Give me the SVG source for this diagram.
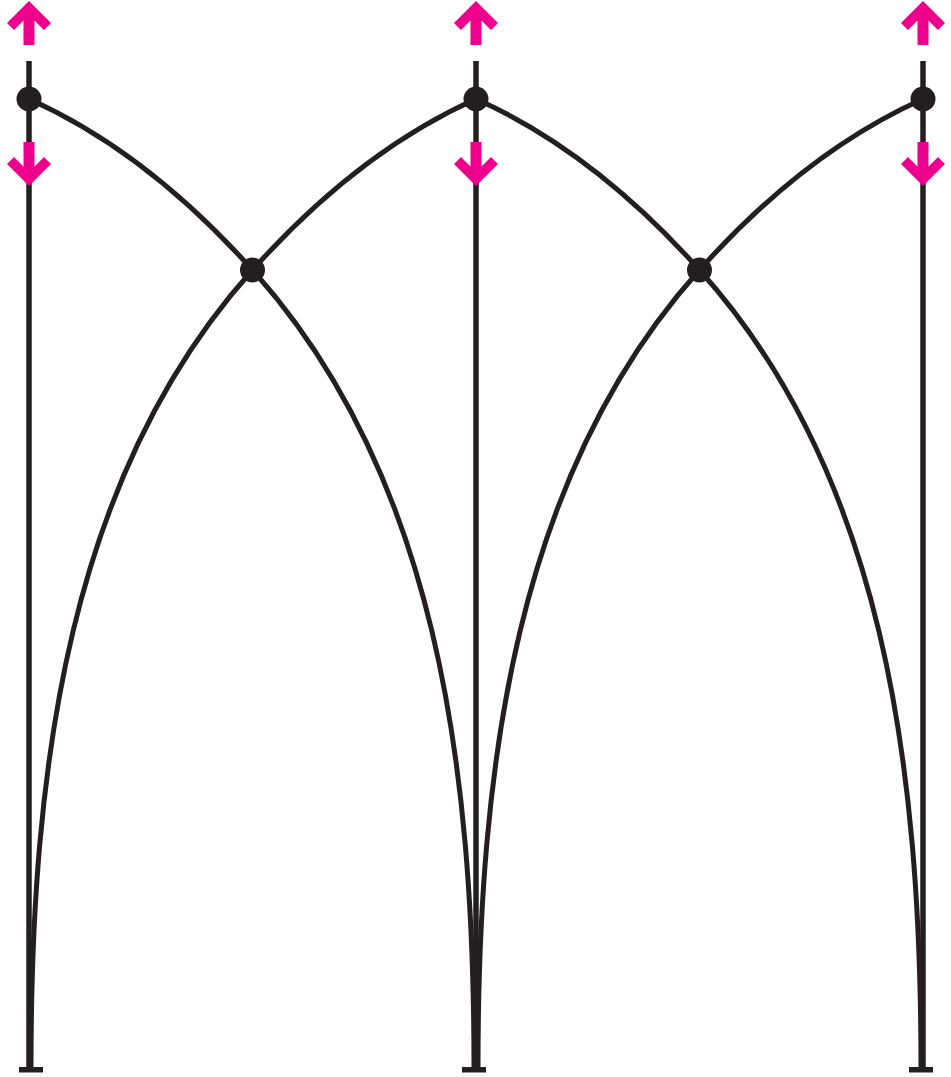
<svg xmlns="http://www.w3.org/2000/svg" xmlns:xlink="http://www.w3.org/1999/xlink" width="951" height="1077" viewBox="0 0 951 1077">
<defs>
<style>
.ln{fill:none;stroke:#231f20;stroke-width:5}
.vt{fill:none;stroke:#231f20;stroke-width:5.5}
.nd{fill:#231f20}
.ar{fill:#ec008c}
.cap{fill:#231f20}
</style>
<path id="arc" d="M29,99 C114,137 189,199 252.5,270 C436,474 474,765 474,1067"/>
<polygon id="arrow" points="0,1 22,23 15,30 5.5,20.5 5.5,45 -5.5,45 -5.5,20.5 -15,30 -22,23"/>
</defs>
<rect width="951" height="1077" fill="#ffffff"/>
<g id="connectors">
<line class="vt" x1="29" y1="61" x2="29" y2="1067"/>
<line class="vt" x1="476" y1="61" x2="476" y2="1067"/>
<line class="vt" x1="923" y1="61" x2="923" y2="1067"/>
<use href="#arc" class="ln"/>
<use href="#arc" class="ln" transform="matrix(-1 0 0 1 505 0)"/>
<use href="#arc" class="ln" transform="translate(447 0)"/>
<use href="#arc" class="ln" transform="matrix(-1 0 0 1 952 0)"/>
</g>
<g id="node-top-left">
<circle class="nd" cx="29" cy="99" r="12.5"/>
<use href="#arrow" class="ar" transform="translate(29 0)"/>
<use href="#arrow" class="ar" transform="translate(29 187) scale(1 -1)"/>
</g>
<g id="node-top-middle">
<circle class="nd" cx="476" cy="99" r="12.5"/>
<use href="#arrow" class="ar" transform="translate(476 0)"/>
<use href="#arrow" class="ar" transform="translate(476 187) scale(1 -1)"/>
</g>
<g id="node-top-right">
<circle class="nd" cx="923" cy="99" r="12.5"/>
<use href="#arrow" class="ar" transform="translate(923 0)"/>
<use href="#arrow" class="ar" transform="translate(923 187) scale(1 -1)"/>
</g>
<g id="node-cross-left">
<circle class="nd" cx="252.5" cy="270" r="12.5"/>
</g>
<g id="node-cross-right">
<circle class="nd" cx="699.5" cy="270" r="12.5"/>
</g>
<g id="node-base-left">
<rect class="cap" x="19" y="1067" width="24" height="5.5"/>
</g>
<g id="node-base-middle">
<rect class="cap" x="462" y="1067" width="24" height="5.5"/>
</g>
<g id="node-base-right">
<rect class="cap" x="909" y="1067" width="24" height="5.5"/>
</g>
</svg>
